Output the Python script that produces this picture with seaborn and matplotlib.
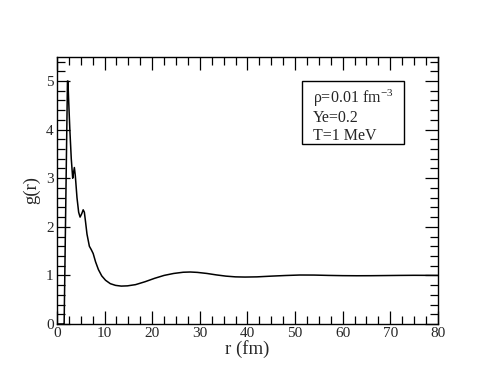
import matplotlib
matplotlib.use("Agg")
import matplotlib.pyplot as plt
import numpy as np
import pandas as pd
import seaborn as sns
from matplotlib.patches import Rectangle
from matplotlib.ticker import MultipleLocator

# Data
r_fm = [0, 1.4, 1.5, 2.2, 2.3, 2.45, 2.7, 3.0, 3.3, 3.45, 3.65, 3.85, 4.2, 4.55,
        4.85, 5.2, 5.5, 5.75, 6.0, 6.3, 6.8, 7.2, 7.6, 8.1, 8.7, 9.4, 10.2,
        11.2, 12.3, 13.5, 14.8, 16.5, 18.5, 20.5, 22.5, 24.5, 26.5, 28.0,
        29.5, 31.5, 33.5, 35.5, 37.5, 39.5, 42, 45, 48, 51, 54, 57, 60, 63,
        66, 69, 72, 75, 78, 80]
g_r = [0, 0, 0, 5.0, 5.0, 4.6, 4.0, 3.4, 3.0, 3.1, 3.22, 3.05, 2.6, 2.3,
       2.2, 2.27, 2.35, 2.3, 2.1, 1.85, 1.6, 1.53, 1.45, 1.28, 1.12, 0.99, 0.9,
       0.83, 0.795, 0.78, 0.785, 0.81, 0.87, 0.94, 1.0, 1.04, 1.065, 1.07,
       1.062, 1.04, 1.01, 0.985, 0.97, 0.966, 0.97, 0.985, 0.998, 1.008,
       1.007, 1.0, 0.995, 0.993, 0.994, 0.997, 1.0, 1.002, 1.001, 1.0]

x_ticks = [0, 10, 20, 30, 40, 50, 60, 70, 80]
y_ticks = [0, 1, 2, 3, 4, 5]
label_lines = ["\u03c1=0.01 fm$^{\\mathregular{-3}}$", "Ye=0.2", "T=1 MeV"]

sns.set_style("ticks")
plt.rcParams["font.family"] = ["Liberation Serif", "DejaVu Serif"]
plt.rcParams["mathtext.fontset"] = "stix"

df = pd.DataFrame({"r": r_fm, "g": g_r})

fig = plt.figure(figsize=(4.93, 3.81), dpi=100)
ax = fig.add_axes([0.1156, 0.1496, 0.7725, 0.7015])
sns.lineplot(data=df, x="r", y="g", ax=ax, color="black", linewidth=1.1,
             estimator=None, sort=False)

ax.set_xlim(0, 80)
ax.set_ylim(0, 5.5)
ax.set_xticks(x_ticks)
ax.set_yticks(y_ticks)
ax.xaxis.set_minor_locator(MultipleLocator(2.5))
ax.yaxis.set_minor_locator(MultipleLocator(0.2))
ax.tick_params(which="both", direction="in", top=True, right=True,
               labelsize=11, pad=2.5, width=0.9, color="black")
ax.tick_params(which="major", length=9.5)
ax.tick_params(which="minor", length=5.5)
for s in ax.spines.values():
    s.set_linewidth(1.0)
    s.set_color("black")

ax.set_xlabel("r (fm)", fontsize=13.5, labelpad=0)
ax.set_ylabel("g(r)", fontsize=13.5, labelpad=4)

# legend-like box with parameters
ax.add_patch(Rectangle((0.6436, 0.673), 0.268, 0.236, transform=ax.transAxes,
                       fill=True, fc="white", ec="black", lw=1.0, zorder=3))
for yy, line in zip([0.827, 0.757, 0.688], label_lines):
    ax.text(0.6725, yy, line, transform=ax.transAxes, fontsize=11.5,
            va="baseline", ha="left", zorder=4)

fig.savefig("out.png", dpi=100)
